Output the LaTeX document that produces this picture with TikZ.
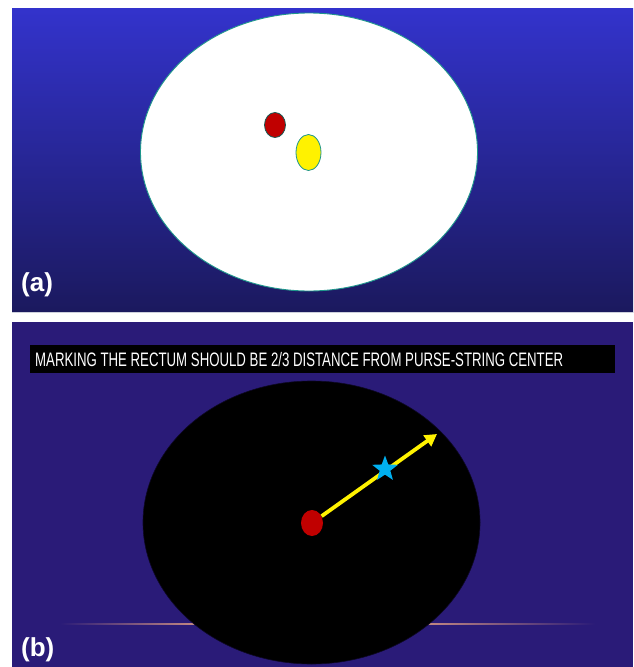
\documentclass[tikz,border=0pt]{standalone}
\usepackage{fontspec}
\setmainfont{Liberation Sans}
\usetikzlibrary{shapes.geometric,arrows.meta}
\definecolor{topblue}{RGB}{51,51,204}
\definecolor{botblue}{RGB}{27,25,94}
\definecolor{panelb}{RGB}{42,27,120}
\definecolor{rimteal}{RGB}{30,150,140}
\definecolor{dotred}{RGB}{192,0,0}
\definecolor{starcyan}{RGB}{0,176,240}
\definecolor{glow}{RGB}{200,140,130}
\definecolor{sepgray}{RGB}{205,208,220}
\tikzset{
  panellabel/.style={anchor=west,text=white,font=\fontsize{26}{26}\selectfont\bfseries,inner sep=0pt},
  spot/.style={ellipse,draw,inner sep=0pt,line width=0.8pt}
}
\begin{document}
\begin{tikzpicture}[x=1pt,y=-1pt]
\useasboundingbox (0,0) rectangle (633,667);
\fill[white] (0,0) rectangle (633,667);
% panel (a)
\shade[top color=topblue,bottom color=botblue] (12,8) rectangle (633,312);
\draw[sepgray,line width=0.8pt] (12,312.5) -- (633,312.5);
\node[ellipse,draw=rimteal,fill=white,line width=0.9pt,minimum width=337pt,minimum height=278pt,inner sep=0pt] (rim) at (309,152) {};
\node[spot,draw=rimteal!60!black,fill=dotred,minimum width=21pt,minimum height=25pt] (reda) at (275,125) {};
\node[spot,draw=rimteal,fill=yellow,minimum width=25pt,minimum height=36pt] (yellowa) at (308.5,152.5) {};
\node[panellabel] (labela) at (21,285) {(a)};
% panel (b)
\fill[panelb] (12,322) rectangle (633,667);
\shade[left color=panelb,right color=glow] (60,623.2) rectangle (200,624.8);
\shade[left color=glow,right color=panelb] (420,623.2) rectangle (595,624.8);
\fill[black] (30,345) rectangle (615,373);
\node[anchor=west,text=white,inner sep=0pt] (banner) at (35,359.5)
  {\resizebox{528pt}{\height}{\fontsize{19.5}{19.5}\selectfont MARKING THE RECTUM SHOULD BE 2/3 DISTANCE FROM PURSE-STRING CENTER}};
\node[ellipse,draw=black!70!panelb,fill=black,line width=0.6pt,minimum width=337pt,minimum height=283pt,inner sep=0pt] (bowl) at (311.5,522.5) {};
\node[ellipse,fill=dotred,minimum width=22pt,minimum height=26pt,inner sep=0pt] (redb) at (312,523) {};
\coordinate (tip) at (437,434);
\draw[yellow,line width=3.8pt,-{Triangle[length=12pt,width=13pt]}] (redb) -- (tip);
\node[star,star points=5,star point ratio=2.4,fill=starcyan,minimum size=27pt,inner sep=0pt] (mark) at (385,469) {};
\node[panellabel] (labelb) at (21,650) {(b)};
\end{tikzpicture}
\end{document}
